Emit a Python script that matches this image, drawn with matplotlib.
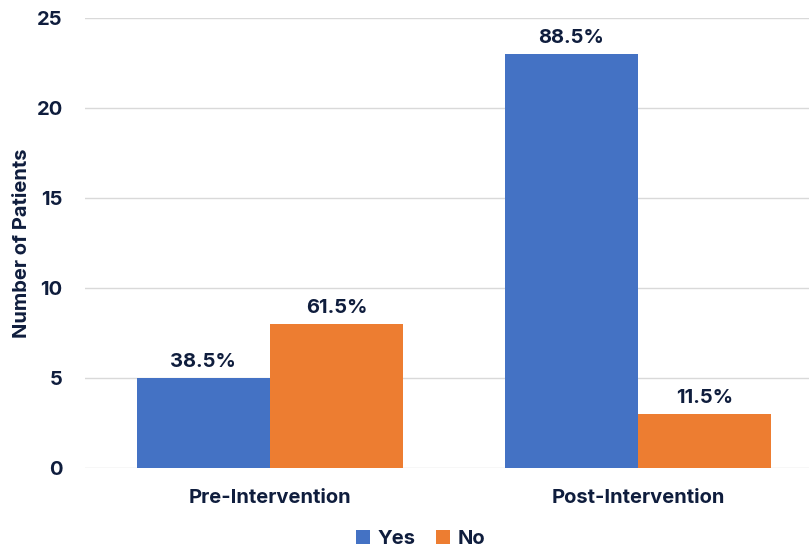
import matplotlib

matplotlib.use("Agg")
import matplotlib.pyplot as plt
import numpy as np

categories = ["Pre-Intervention", "Post-Intervention"]
yes_counts = [5, 23]
no_counts = [8, 3]
yes_pct = ["38.5%", "88.5%"]
no_pct = ["61.5%", "11.5%"]

TEXT = "#0f1d3d"
BLUE = "#4472c4"
ORANGE = "#ed7d31"

plt.rcParams["font.family"] = ["Inter", "DejaVu Sans"]
plt.rcParams["font.weight"] = "bold"

fig = plt.figure(figsize=(8.09, 5.5), dpi=100)
ax = fig.add_axes([0.105, 0.149, 0.895, 0.818])

x = np.arange(len(categories))
width = 0.362
b1 = ax.bar(x - width / 2, yes_counts, width, color=BLUE, label="Yes", zorder=3)
b2 = ax.bar(x + width / 2, no_counts, width, color=ORANGE, label="No", zorder=3)

for bars, labels in ((b1, yes_pct), (b2, no_pct)):
    for bar, lab in zip(bars, labels):
        ax.annotate(lab, (bar.get_x() + bar.get_width() / 2, bar.get_height()),
                    xytext=(0, 5), textcoords="offset points", ha="center", va="bottom",
                    fontsize=14.5, fontweight="bold", color=TEXT)

ax.set_ylim(0, 25)
ax.set_xlim(-0.503, 1.465)
ax.set_yticks(range(0, 26, 5))
ax.set_xticks(x)
ax.set_xticklabels(categories)
ax.tick_params(axis="both", length=0, labelsize=14.5, labelcolor=TEXT)
ax.tick_params(axis="y", pad=16)
ax.tick_params(axis="x", pad=15)
ax.grid(axis="y", color="#d9d9d9", linewidth=1, zorder=0)
for s in ax.spines.values():
    s.set_visible(False)
ax.set_ylabel("Number of Patients", fontsize=14.5, fontweight="bold", color=TEXT)
ax.yaxis.set_label_coords(-0.075, 0.5)

fig.legend(loc="lower center", bbox_to_anchor=(0.52, -0.03), ncol=2, frameon=False,
           fontsize=14.5, handlelength=0.7, handleheight=0.7, handletextpad=0.4,
           columnspacing=1.0, labelcolor=TEXT)

fig.savefig("out.png", dpi=100)
